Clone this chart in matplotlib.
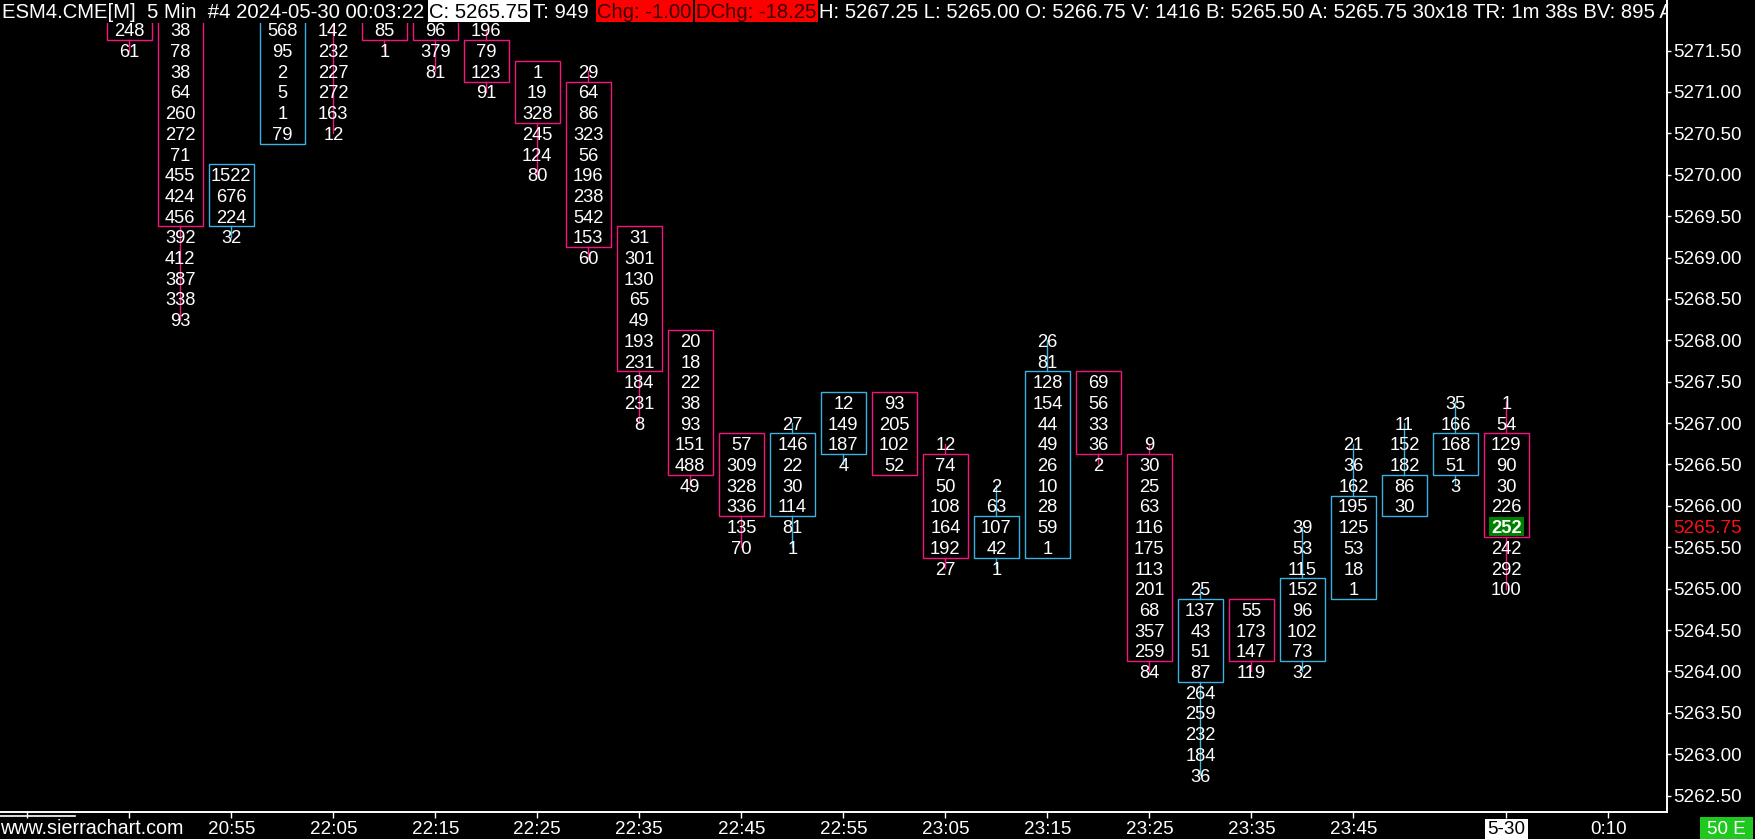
import matplotlib
matplotlib.use("Agg")
import matplotlib.pyplot as plt
from matplotlib.patches import Rectangle
from matplotlib.lines import Line2D
import matplotlib.transforms as mtransforms

plt.rcParams['font.family'] = ['Liberation Sans', 'DejaVu Sans']

# ---------------- data ----------------
tick_size = 0.25
bar_top = [5271.75, 5271.75, 5270.00, 5271.75, 5271.75, 5271.75, 5271.75, 5271.75,
           5271.25, 5271.25, 5269.25, 5268.00, 5266.75, 5267.00, 5267.25, 5267.25,
           5266.75, 5266.25, 5268.00, 5267.50, 5266.75, 5265.00, 5264.75, 5265.75,
           5266.75, 5267.00, 5267.25, 5267.25]
bar_vals = [
    [248, 61],
    [38, 78, 38, 64, 260, 272, 71, 455, 424, 456, 392, 412, 387, 338, 93],
    [1522, 676, 224, 32],
    [568, 95, 2, 5, 1, 79],
    [142, 232, 227, 272, 163, 12],
    [85, 1],
    [96, 379, 81],
    [196, 79, 123, 91],
    [1, 19, 328, 245, 124, 80],
    [29, 64, 86, 323, 56, 196, 238, 542, 153, 60],
    [31, 301, 130, 65, 49, 193, 231, 184, 231, 8],
    [20, 18, 22, 38, 93, 151, 488, 49],
    [57, 309, 328, 336, 135, 70],
    [27, 146, 22, 30, 114, 81, 1],
    [12, 149, 187, 4],
    [93, 205, 102, 52],
    [12, 74, 50, 108, 164, 192, 27],
    [2, 63, 107, 42, 1],
    [26, 81, 128, 154, 44, 49, 26, 10, 28, 59, 1],
    [69, 56, 33, 36, 2],
    [9, 30, 25, 63, 116, 175, 113, 201, 68, 357, 259, 84],
    [25, 137, 43, 51, 87, 264, 259, 232, 184, 36],
    [55, 173, 147, 119],
    [39, 53, 115, 152, 96, 102, 73, 32],
    [21, 36, 162, 195, 125, 53, 18, 1],
    [11, 152, 182, 86, 30],
    [35, 166, 168, 51, 3],
    [1, 54, 129, 90, 30, 226, 252, 242, 292, 100],
]
bar_open = [5272.00, 5272.00, 5269.50, 5270.50, 5272.25, 5272.00, 5272.00, 5271.50,
            5271.25, 5271.00, 5269.25, 5268.00, 5266.75, 5266.00, 5266.75, 5267.25,
            5266.50, 5265.50, 5265.50, 5267.50, 5266.50, 5264.00, 5264.75, 5264.25,
            5265.00, 5266.00, 5266.50, 5266.75]
bar_close = [5271.75, 5269.50, 5270.00, 5272.00, 5272.00, 5271.75, 5271.75, 5271.25,
             5270.75, 5269.25, 5267.75, 5266.50, 5266.00, 5266.75, 5267.25, 5266.50,
             5265.50, 5265.75, 5267.50, 5266.75, 5264.25, 5264.75, 5264.25, 5265.00,
             5266.00, 5266.25, 5266.75, 5265.75]
last_price = 5265.75
price_ticks = [5262.5 + 0.5 * k for k in range(19)]
time_tick_idx = [-2, 0, 2, 4, 6, 8, 10, 12, 14, 16, 18, 20, 22, 24, 27, 29]
time_tick_labels = ["", "", "20:55", "22:05", "22:15", "22:25", "22:35", "22:45",
                    "22:55", "23:05", "23:15", "23:25", "23:35", "23:45", "5-30", "0:10"]
header_pieces = [
    "ESM4.CME[M]  5 Min  #4 2024-05-30 00:03:22",
    "C: 5265.75",
    "T: 949",
    "Chg: -1.00",
    "DChg: -18.25",
    "H: 5267.25 L: 5265.00 O: 5266.75 V: 1416 B: 5265.50 A: 5265.75 30x18 TR: 1m 38s BV: 895 A",
]

# ---------------- style ----------------
W, H, DPI = 1755, 839, 100
PINK = '#f5137f'
BLUE = '#3cb2e2'
NUM_FS = 13.2
HDR_FS = 14.6

fig = plt.figure(figsize=(W / DPI, H / DPI), dpi=DPI, facecolor='black')
plot_right = 1667
plot_bottom = 812
ax = fig.add_axes([0, (H - plot_bottom) / H, plot_right / W, plot_bottom / H])
ax.set_facecolor('black')
ax.set_xlim(-2.535, 30.15)
ax.set_ylim(5262.303, 5272.110)
for s in ['top', 'left']:
    ax.spines[s].set_visible(False)
for s in ['right', 'bottom']:
    ax.spines[s].set_color('white')
    ax.spines[s].set_linewidth(1.4)

# right price axis
ax.yaxis.tick_right()
ax.set_yticks(price_ticks)
ax.set_yticklabels([f"{p:.2f}" for p in price_ticks])
ax.tick_params(axis='y', colors='white', length=3, width=1, pad=1.5, labelsize=13.6)
# x ticks (labels drawn separately)
ax.set_xticks(time_tick_idx)
ax.set_xticklabels([])
ax.tick_params(axis='x', colors='white', length=4, width=1)

text_off = mtransforms.offset_copy(ax.transData, fig=fig, y=-NUM_FS * 0.358, units='points')
half_w = 0.441
for i, (top, vals, o, c) in enumerate(zip(bar_top, bar_vals, bar_open, bar_close)):
    up = c > o
    col = BLUE if up else PINK
    hi = top
    lo = top - tick_size * (len(vals) - 1)
    b_top = max(o, c) + tick_size / 2
    b_bot = min(o, c) - tick_size / 2
    if hi > b_top:
        ax.plot([i, i], [b_top, hi], color=col, lw=1.0, zorder=2)
    if lo < b_bot:
        ax.plot([i, i], [b_bot, lo], color=col, lw=1.0, zorder=2)
    ax.add_patch(Rectangle((i - half_w, b_bot), 2 * half_w, b_top - b_bot,
                           fill=False, edgecolor=col, lw=1.0, zorder=3))
    for k, v in enumerate(vals):
        p = top - k * tick_size
        is_last = (i == len(bar_vals) - 1 and abs(p - last_price) < 1e-6)
        if is_last:
            ax.add_patch(Rectangle((i - 0.345, p - 0.118), 0.69, 0.236,
                                   facecolor='#008000', edgecolor='none', zorder=4))
        ax.text(i, p, str(v), color='white', fontsize=NUM_FS, ha='center', va='baseline',
                transform=text_off, zorder=5, fontweight='bold' if is_last else 'normal')

# last price label on axis (red)
blend_r = mtransforms.blended_transform_factory(ax.transAxes, ax.transData)
ax.text(1.0, last_price, "5265.75", color='#ff1010', fontsize=13.6, ha='left',
        va='center_baseline',
        transform=mtransforms.offset_copy(blend_r, fig=fig, x=4.3, units='points'),
        clip_on=False)

# ---------------- bottom axis labels ----------------
def fy(y):
    return 1 - y / H

def fx(x):
    return x / W

blend_b = mtransforms.blended_transform_factory(ax.transData, fig.transFigure)
for idx, lab in zip(time_tick_idx, time_tick_labels):
    if not lab:
        continue
    if lab == "5-30":
        ax.text(idx, fy(834.5), lab, color='black', fontsize=13.6, ha='center', va='baseline',
                transform=blend_b, clip_on=False,
                bbox=dict(facecolor='white', edgecolor='none', pad=1.8))
    else:
        ax.text(idx, fy(834.5), lab, color='white', fontsize=13.6, ha='center', va='baseline',
                transform=blend_b, clip_on=False)
fig.text(fx(0), fy(834.5), "www.sierrachart.com", color='white', fontsize=14.2,
         ha='left', va='baseline')
fig.add_artist(Line2D([fx(0), fx(75)], [fy(815.5), fy(815.5)], color='white', lw=1.2))
fig.add_artist(Rectangle((fx(1700), fy(839)), fx(1753) - fx(1700), fy(817) - fy(839),
                         transform=fig.transFigure, facecolor='#1ec81e', edgecolor='none'))
fig.text(fx(1726.5), fy(834.5), "50 E", color='white', fontsize=13.6, ha='center', va='baseline')

# ---------------- header ----------------
fig.add_artist(Rectangle((0, fy(23)), fx(1666), fy(0) - fy(23), transform=fig.transFigure,
                         facecolor='black', edgecolor='none', zorder=10))
fig.add_artist(Line2D([fx(plot_right), fx(plot_right)], [fy(0), fy(30)], color='white',
                      lw=1.4, zorder=11))
# (left x of text, text colour, box colour)
header_layout = [
    (2, 'white', None),
    (429, 'black', 'white'),
    (533, 'white', None),
    (597, '#3a0000', '#ff0000'),
    (696, '#3a0000', '#ff0000'),
    (819, 'white', None),
]
renderer = fig.canvas.get_renderer()
clip = mtransforms.Bbox.from_extents(0, 0, plot_right - 1, H)
for txt, (x0, tc, bc) in zip(header_pieces, header_layout):
    t = fig.text(fx(x0), fy(17.5), txt, color=tc, fontsize=HDR_FS, ha='left', va='baseline',
                 zorder=12)
    t.set_clip_box(clip)
    t.set_clip_on(True)
    if bc:
        w = t.get_window_extent(renderer).width
        fig.add_artist(Rectangle((fx(x0 - 1.5), fy(22)), fx(w + 3), fy(0) - fy(22),
                                 transform=fig.transFigure, facecolor=bc, edgecolor='none',
                                 zorder=11))

fig.savefig("out.png", dpi=DPI, facecolor='black')
